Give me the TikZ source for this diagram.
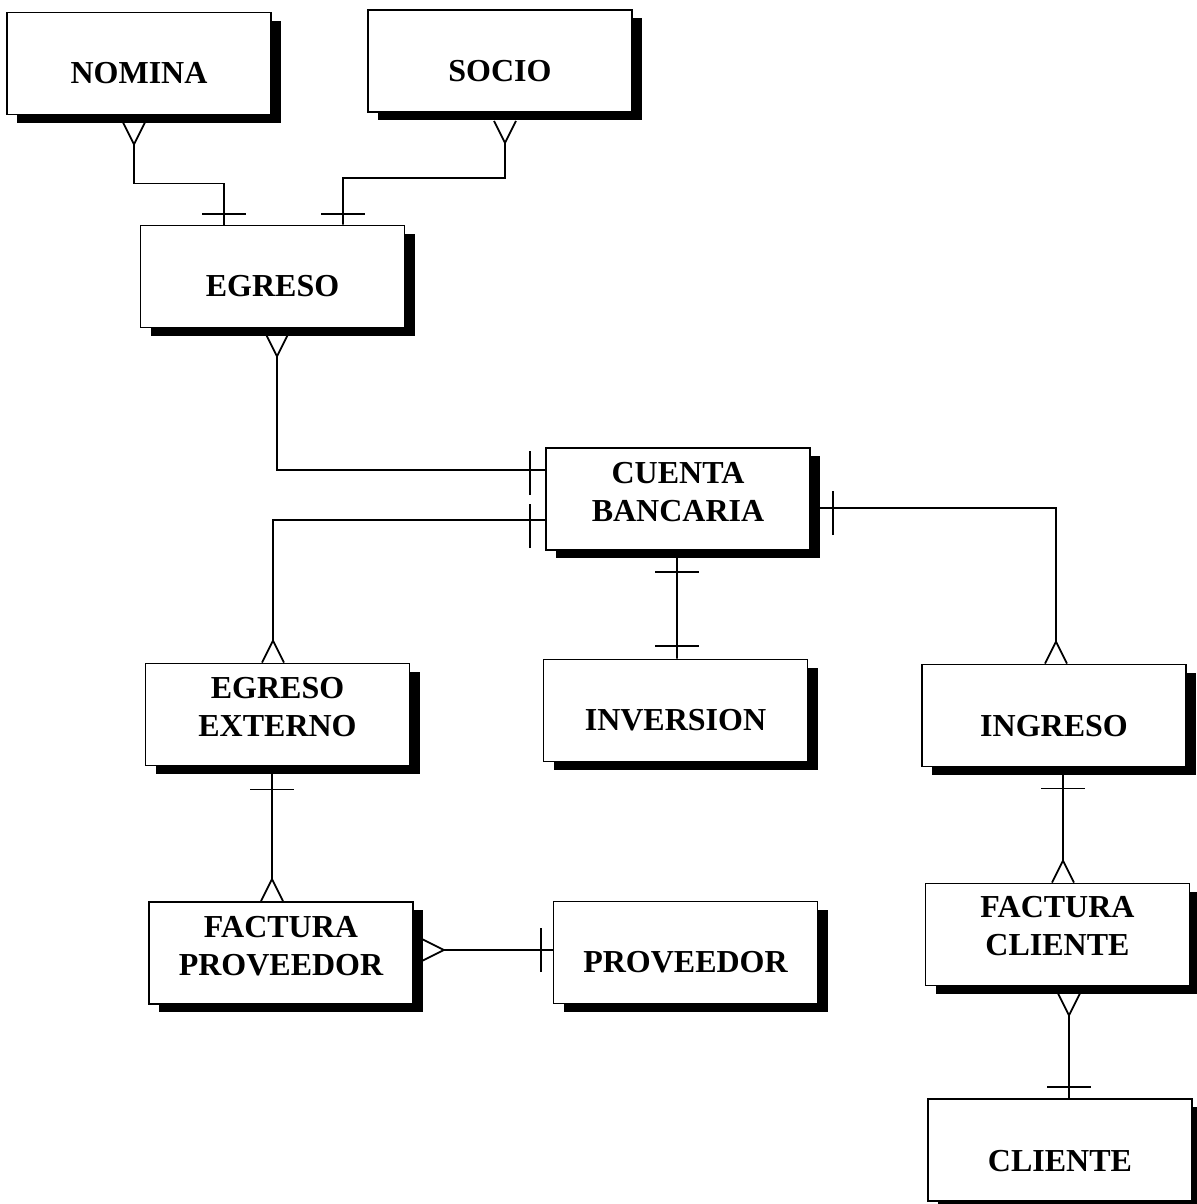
\documentclass[tikz,border=0pt]{standalone}
\usepackage{fontspec}
\setmainfont{Liberation Serif}
\usetikzlibrary{shadows,backgrounds,calc}

\begin{document}
\begin{tikzpicture}[x=1bp,y=-1bp,
  ent/.style={draw, line width=1.8bp, fill=white,
    minimum width=264bp, minimum height=102bp, inner sep=0pt,
    drop shadow={shadow xshift=10bp, shadow yshift=-8bp, fill=black, opacity=1}},
  lbl/.style={inner sep=0pt, align=center,
    font=\bfseries\fontsize{32bp}{38bp}\selectfont},
  rel/.style={line width=1.8bp},
  manyend/.pic={\draw[rel, line join=miter] (-11,0) -- (0,22) -- (11,0);},
  oneend/.pic={\draw[rel] (-22,0) -- (22,0);},
]
\useasboundingbox (0,0) rectangle (1197,1204);

% entities
\node[ent] (nom) at (139,63.5)   {};
\node[ent] (soc) at (500,61)     {};
\node[ent] (egr) at (272.5,276.5){};
\node[ent] (cta) at (678,499)    {};
\node[ent] (eex) at (277.5,714.5){};
\node[ent] (inv) at (675.5,710.5){};
\node[ent] (ing) at (1054,715.5) {};
\node[ent] (fpr) at (281,953)    {};
\node[ent] (prv) at (685.5,952.5){};
\node[ent] (fcl) at (1057.5,934.5){};
\node[ent] (cli) at (1060,1150)  {};

% entity names
\node[lbl] (nom-t) at ($(nom.center)+(0,10)$) {NOMINA};
\node[lbl] (soc-t) at ($(soc.center)+(0,10)$) {SOCIO};
\node[lbl] (egr-t) at ($(egr.center)+(0,10)$) {EGRESO};
\node[lbl] (cta-t) at ($(cta.center)+(0,-7)$) {CUENTA\\BANCARIA};
\node[lbl] (eex-t) at ($(eex.center)+(0,-7)$) {EGRESO\\EXTERNO};
\node[lbl] (inv-t) at ($(inv.center)+(0,10)$) {INVERSION};
\node[lbl] (ing-t) at ($(ing.center)+(0,11)$) {INGRESO};
\node[lbl] (fpr-t) at ($(fpr.center)+(0,-7)$) {FACTURA\\PROVEEDOR};
\node[lbl] (prv-t) at ($(prv.center)+(0,10)$) {PROVEEDOR};
\node[lbl] (fcl-t) at ($(fcl.center)+(0,-8)$) {FACTURA\\CLIENTE};
\node[lbl] (cli-t) at ($(cli.center)+(0,11)$) {CLIENTE};

\begin{pgfonlayer}{background}
  \fill[white] (0,0) rectangle (1197,1204);

  % NOMINA -- EGRESO
  \coordinate (a1) at ($(nom.south)+(-5,7)$);
  \coordinate (a2) at ($(egr.north)+(-48.5,0)$);
  \pic at (a1) {manyend};
  \draw[rel] ($(a1)+(0,22)$) |- ++(90,39) -- (a2);
  \pic at ($(a2)+(0,-11)$) {oneend};

  % SOCIO -- EGRESO
  \coordinate (b1) at ($(soc.south)+(5,8)$);
  \coordinate (b2) at ($(egr.north)+(70.5,0)$);
  \pic at (b1) {manyend};
  \draw[rel] ($(b1)+(0,22)$) |- ++(-162,35) -- (b2);
  \pic at ($(b2)+(0,-11)$) {oneend};

  % EGRESO -- CUENTA BANCARIA
  \coordinate (c1) at ($(egr.south)+(4.5,6)$);
  \coordinate (c2) at ($(cta.west)+(0,-29)$);
  \pic at (c1) {manyend};
  \draw[rel] ($(c1)+(0,22)$) |- (c2);
  \pic[rotate=90] at ($(c2)+(-15,3)$) {oneend};

  % CUENTA BANCARIA -- EGRESO EXTERNO
  \coordinate (d1) at ($(cta.west)+(0,21)$);
  \coordinate (d2) at ($(eex.north)+(-4.5,0)$);
  \draw[rel] (d1) -| ($(d2)+(0,-22)$);
  \pic[rotate=90] at ($(d1)+(-15,6)$) {oneend};
  \pic[rotate=180] at (d2) {manyend};

  % CUENTA BANCARIA -- INGRESO
  \coordinate (e1) at ($(cta.east)+(0,9)$);
  \coordinate (e2) at ($(ing.north)+(2,0)$);
  \draw[rel] (e1) -| ($(e2)+(0,-22)$);
  \pic[rotate=90] at ($(e1)+(22,5)$) {oneend};
  \pic[rotate=180] at (e2) {manyend};

  % CUENTA BANCARIA -- INVERSION
  \coordinate (f1) at ($(cta.south)+(-1,0)$);
  \coordinate (f2) at ($(inv.north)+(1.5,0)$);
  \draw[rel] (f1) -- (f2);
  \pic at ($(f1)+(0,21)$) {oneend};
  \pic at ($(f2)+(0,-13)$) {oneend};

  % EGRESO EXTERNO -- FACTURA PROVEEDOR
  \coordinate (g1) at ($(eex.south)+(-5.5,0)$);
  \coordinate (g2) at ($(fpr.north)+(-9,0)$);
  \draw[rel] (g1) -- ($(g2)+(0,-22)$);
  \pic at ($(g1)+(0,23)$) {oneend};
  \pic[rotate=180] at (g2) {manyend};

  % FACTURA PROVEEDOR -- PROVEEDOR
  \coordinate (h1) at ($(fpr.east)+(8,-3)$);
  \coordinate (h2) at ($(prv.west)+(0,-2.5)$);
  \pic[rotate=90] at (h1) {manyend};
  \draw[rel] ($(h1)+(22,0)$) -- (h2);
  \pic[rotate=90] at ($(h2)+(-12,0)$) {oneend};

  % INGRESO -- FACTURA CLIENTE
  \coordinate (i1) at ($(ing.south)+(9,0)$);
  \coordinate (i2) at ($(fcl.north)+(5.5,0)$);
  \draw[rel] (i1) -- ($(i2)+(0,-22)$);
  \pic at ($(i1)+(0,21)$) {oneend};
  \pic[rotate=180] at (i2) {manyend};

  % FACTURA CLIENTE -- CLIENTE
  \coordinate (j1) at ($(fcl.south)+(11.5,7)$);
  \coordinate (j2) at ($(cli.north)+(9,0)$);
  \pic at (j1) {manyend};
  \draw[rel] ($(j1)+(0,22)$) -- (j2);
  \pic at ($(j2)+(0,-11)$) {oneend};
\end{pgfonlayer}
\end{tikzpicture}
\end{document}
